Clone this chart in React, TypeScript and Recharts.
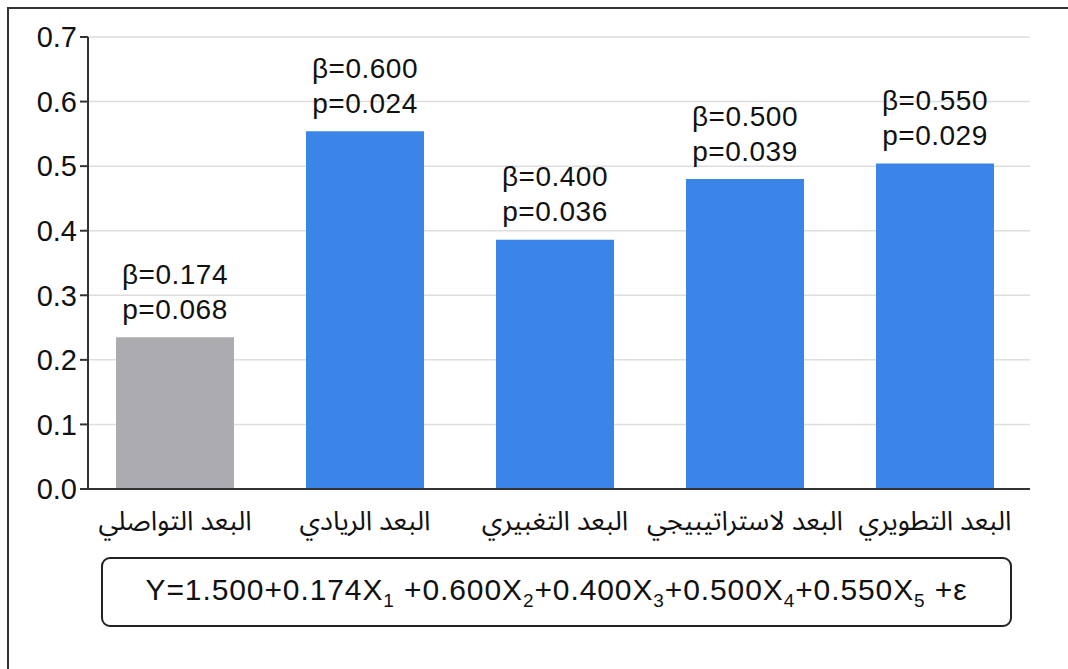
import { BarChart, Bar, XAxis, YAxis, CartesianGrid, Cell, LabelList } from "recharts";

// ── Data ───────────────────────────────────────────────────────────────────

const dimensions = [
  "البعد التواصلي",
  "البعد الريادي",
  "البعد التغبيري",
  "البعد لاستراتيبيجي",
  "البعد التطويري",
];
const barHeights = [0.235, 0.554, 0.386, 0.48, 0.504];
const betas = ["0.174", "0.600", "0.400", "0.500", "0.550"];
const pValues = ["0.068", "0.024", "0.036", "0.039", "0.029"];
const significant = [false, true, true, true, true];
const yTicks = [0, 0.1, 0.2, 0.3, 0.4, 0.5, 0.6, 0.7];

const data = dimensions.map((name, i) => ({
  name,
  value: barHeights[i],
  beta: betas[i],
  p: pValues[i],
  sig: significant[i],
}));

const BLUE = "#3a85e7";
const GRAY = "#acacb0";
const FONT = "'Liberation Sans', Arial, Helvetica, sans-serif";
const AR_FONT = "'Noto Sans Arabic', 'Noto Naskh Arabic', 'DejaVu Sans', sans-serif";

// ── Two-line β / p label above each bar ────────────────────────────────────

function StatLabel(props: any) {
  const { x, y, width, index } = props;
  const cx = x + width / 2;
  const d = data[index];
  return (
    <g fontFamily={FONT} fontSize={28} fill="#111" textAnchor="middle" letterSpacing={0.5}>
      <text x={cx} y={y - 63} dominantBaseline="central">
        β=
        {d.beta}
      </text>
      <text x={cx} y={y - 28} dominantBaseline="central">
        p=
        {d.p}
      </text>
    </g>
  );
}

function ArabicTick(props: any) {
  const { x, y, payload } = props;
  return (
    <text
      x={x}
      y={y + 24}
      textAnchor="middle"
      dominantBaseline="central"
      fontFamily={AR_FONT}
      fontSize={27}
      fill="#111"
    >
      {payload.value}
    </text>
  );
}

const sub = { fontSize: 19 };

export default function App() {
  return (
    <div style={{ position: "relative", width: 1068, height: 669, overflow: "hidden", background: "#fff" }}>
      <style>{`html,body{margin:0;padding:0;overflow:hidden}`}</style>
      {/* outer frame: only the top and left edges show */}
      <div style={{ position: "absolute", left: 7, top: 7, width: 1061, height: 2, background: "#333" }} />
      <div style={{ position: "absolute", left: 7, top: 7, width: 2, height: 662, background: "#333" }} />
      <div style={{ position: "absolute", left: 8, top: 8 }}>
        <BarChart
          width={1050}
          height={548}
          data={data}
          margin={{ top: 29, right: 28, left: 0, bottom: 17 }}
        >
          <CartesianGrid stroke="#dedede" strokeWidth={1.5} vertical={false} />
          <XAxis
            dataKey="name"
            height={50}
            padding={{ left: -8, right: 0 }}
            tickLine={false}
            axisLine={{ stroke: "#333", strokeWidth: 2 }}
            tick={<ArabicTick />}
            interval={0}
          />
          <YAxis
            width={80}
            domain={[0, 0.7]}
            ticks={yTicks}
            tickFormatter={(v: number) => v.toFixed(1)}
            tickSize={8}
            tickMargin={3}
            axisLine={{ stroke: "#333", strokeWidth: 2 }}
            tickLine={{ stroke: "#333", strokeWidth: 2 }}
            tick={{ fontSize: 29, fill: "#111", fontFamily: FONT }}
          />
          <Bar dataKey="value" barSize={118} isAnimationActive={false}>
            {data.map((d) => (
              <Cell key={d.name} fill={d.sig ? BLUE : GRAY} />
            ))}
            <LabelList dataKey="beta" content={<StatLabel />} />
          </Bar>
        </BarChart>
      </div>
      {/* regression equation */}
      <div
        style={{
          position: "absolute",
          left: 101,
          top: 557,
          width: 907,
          height: 66,
          border: "2px solid #222",
          borderRadius: 9,
          display: "flex",
          alignItems: "center",
          justifyContent: "center",
          fontFamily: FONT,
          fontSize: 30,
          letterSpacing: 0.9,
          color: "#111",
          whiteSpace: "pre",
        }}
      >
        <span>
          Y=1.500+0.174X<sub style={sub}>1</sub> +0.600X<sub style={sub}>2</sub>+0.400X
          <sub style={sub}>3</sub>+0.500X<sub style={sub}>4</sub>+0.550X<sub style={sub}>5</sub>{" "}
          +ε
        </span>
      </div>
    </div>
  );
}
